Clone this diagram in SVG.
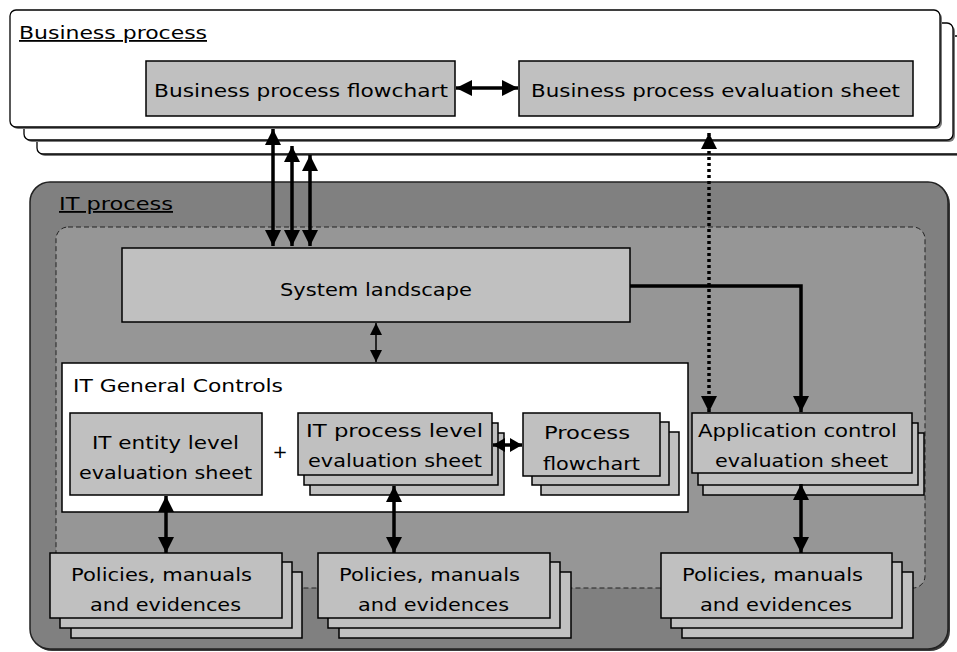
<svg xmlns="http://www.w3.org/2000/svg" width="957" height="652" viewBox="0 0 957 652">
<defs>
<style>
text{font-family:"DejaVu Sans","Liberation Sans",sans-serif;font-size:18px;fill:#000}
.bp{fill:#fff;stroke:#000;stroke-width:1.3}
.sh{fill:#7a7a7a}
.box{fill:#c0c0c0;stroke:#000;stroke-width:1.5}
.thick{stroke:#000;stroke-width:3.5;fill:none}
.thin{stroke:#000;stroke-width:1.5;fill:none}
.u{text-decoration:underline}
</style>
<marker id="ah" markerUnits="userSpaceOnUse" viewBox="0 0 16 16" markerWidth="16" markerHeight="16" refX="16" refY="8" orient="auto-start-reverse"><path d="M0,0L16,8L0,16Z" fill="#000"/></marker>
<marker id="am" markerUnits="userSpaceOnUse" viewBox="0 0 12 14" markerWidth="12" markerHeight="14" refX="12" refY="7" orient="auto-start-reverse"><path d="M0,0L12,7L0,14Z" fill="#000"/></marker>
<marker id="as" markerUnits="userSpaceOnUse" viewBox="0 0 12 12" markerWidth="12" markerHeight="12" refX="12" refY="6" orient="auto-start-reverse"><path d="M0,0L12,6L0,12Z" fill="#000"/></marker>
</defs>
<rect width="957" height="652" fill="#fff"/>

<g id="business-process">
<rect class="sh" x="39" y="38" width="930" height="118" rx="6"/>
<rect class="bp" x="37" y="36" width="930" height="118" rx="6"/>
<rect class="sh" x="26" y="25" width="929" height="117" rx="6"/>
<rect class="bp" x="24" y="23" width="929" height="117" rx="6"/>
<rect class="sh" x="12" y="12" width="930" height="117" rx="6"/>
<rect class="bp" x="10" y="10" width="930" height="117" rx="6"/>
<text class="u" x="19" y="39" textLength="188" lengthAdjust="spacingAndGlyphs">Business process</text>
</g>

<g id="bp-flowchart">
<rect class="box" x="146" y="61" width="309" height="55"/>
<text x="154" y="97" textLength="294" lengthAdjust="spacingAndGlyphs">Business process flowchart</text>
</g>

<g id="bp-evaluation-sheet">
<rect class="box" x="519" y="61" width="394" height="55"/>
<text x="531" y="97" textLength="369" lengthAdjust="spacingAndGlyphs">Business process evaluation sheet</text>
</g>

<g id="it-process">
<rect x="32" y="184" width="918" height="467" rx="20" fill="#3a3a3a"/>
<rect x="30" y="182" width="918" height="467" rx="20" fill="#808080" stroke="#222" stroke-width="1.5"/>
<rect x="56" y="227" width="869" height="361" rx="12" fill="#969696" stroke="#222" stroke-width="1" stroke-dasharray="5,3"/>
<text class="u" x="59" y="210" textLength="114" lengthAdjust="spacingAndGlyphs">IT process</text>
</g>

<g id="system-landscape">
<rect class="box" x="122" y="248" width="508" height="74"/>
<text x="280" y="296" textLength="192" lengthAdjust="spacingAndGlyphs">System landscape</text>
</g>

<g id="itgc">
<rect x="62" y="363" width="626" height="149" fill="#fff" stroke="#000" stroke-width="1.5"/>
<text x="73" y="392" textLength="210" lengthAdjust="spacingAndGlyphs">IT General Controls</text>
<text x="280" y="458" text-anchor="middle">+</text>
</g>

<g id="it-entity-level">
<rect class="box" x="70" y="413" width="192" height="82"/>
<text x="92" y="449" textLength="147" lengthAdjust="spacingAndGlyphs">IT entity level</text>
<text x="79" y="479" textLength="173" lengthAdjust="spacingAndGlyphs">evaluation sheet</text>
</g>

<g id="it-process-level">
<rect class="box" x="310" y="433" width="194" height="62"/>
<rect class="box" x="304" y="423" width="194" height="62"/>
<rect class="box" x="298" y="413" width="194" height="62"/>
<text x="306" y="437" textLength="177" lengthAdjust="spacingAndGlyphs">IT process  level</text>
<text x="308" y="467" textLength="174" lengthAdjust="spacingAndGlyphs">evaluation sheet</text>
</g>

<g id="process-flowchart">
<rect class="box" x="541" y="432" width="138" height="63"/>
<rect class="box" x="532" y="422" width="137" height="63"/>
<rect class="box" x="523" y="413" width="137" height="63"/>
<text x="544" y="439" textLength="86" lengthAdjust="spacingAndGlyphs">Process</text>
<text x="543" y="470" textLength="97" lengthAdjust="spacingAndGlyphs">flowchart</text>
</g>

<g id="application-control">
<rect class="box" x="703" y="433" width="221" height="62"/>
<rect class="box" x="698" y="423" width="220" height="62"/>
<rect class="box" x="692" y="413" width="220" height="60"/>
<text x="698" y="437" textLength="199" lengthAdjust="spacingAndGlyphs">Application control</text>
<text x="715" y="467" textLength="173" lengthAdjust="spacingAndGlyphs">evaluation sheet</text>
</g>

<g id="policies-1">
<rect class="box" x="71" y="572" width="231" height="66"/>
<rect class="box" x="60" y="562" width="232" height="66"/>
<rect class="box" x="50" y="553" width="232" height="65"/>
<text x="71" y="581" textLength="181" lengthAdjust="spacingAndGlyphs">Policies, manuals</text>
<text x="90" y="611" textLength="151" lengthAdjust="spacingAndGlyphs">and evidences</text>
</g>

<g id="policies-2">
<rect class="box" x="339" y="572" width="232" height="66"/>
<rect class="box" x="328" y="562" width="232" height="66"/>
<rect class="box" x="318" y="553" width="232" height="65"/>
<text x="339" y="581" textLength="181" lengthAdjust="spacingAndGlyphs">Policies, manuals</text>
<text x="358" y="611" textLength="151" lengthAdjust="spacingAndGlyphs">and evidences</text>
</g>

<g id="policies-3">
<rect class="box" x="682" y="572" width="231" height="66"/>
<rect class="box" x="671" y="562" width="231" height="66"/>
<rect class="box" x="661" y="553" width="231" height="65"/>
<text x="682" y="581" textLength="181" lengthAdjust="spacingAndGlyphs">Policies, manuals</text>
<text x="700" y="611" textLength="152" lengthAdjust="spacingAndGlyphs">and evidences</text>
</g>

<g id="connectors">
<line class="thick" x1="456" y1="88" x2="518" y2="88" marker-start="url(#ah)" marker-end="url(#ah)"/>
<line class="thick" x1="273" y1="129" x2="273" y2="246" marker-start="url(#ah)" marker-end="url(#ah)"/>
<line class="thick" x1="292" y1="146" x2="292" y2="246" marker-start="url(#ah)" marker-end="url(#ah)"/>
<line class="thick" x1="310" y1="155" x2="310" y2="246" marker-start="url(#ah)" marker-end="url(#ah)"/>
<path class="thick" d="M630,286H801V412" stroke-width="3" marker-end="url(#ah)"/>
<line class="thick" x1="709" y1="133" x2="709" y2="412" stroke-dasharray="3,3" marker-start="url(#ah)" marker-end="url(#ah)"/>
<line class="thin" x1="376" y1="323" x2="376" y2="362" marker-start="url(#as)" marker-end="url(#as)"/>
<line class="thick" x1="493" y1="445" x2="522" y2="445" stroke-width="3" marker-start="url(#am)" marker-end="url(#am)"/>
<line class="thick" x1="166" y1="496" x2="166" y2="553" marker-start="url(#ah)" marker-end="url(#ah)"/>
<line class="thick" x1="394" y1="486" x2="394" y2="553" marker-start="url(#ah)" marker-end="url(#ah)"/>
<line class="thick" x1="801" y1="484" x2="801" y2="553" marker-start="url(#ah)" marker-end="url(#ah)"/>
</g>
</svg>
